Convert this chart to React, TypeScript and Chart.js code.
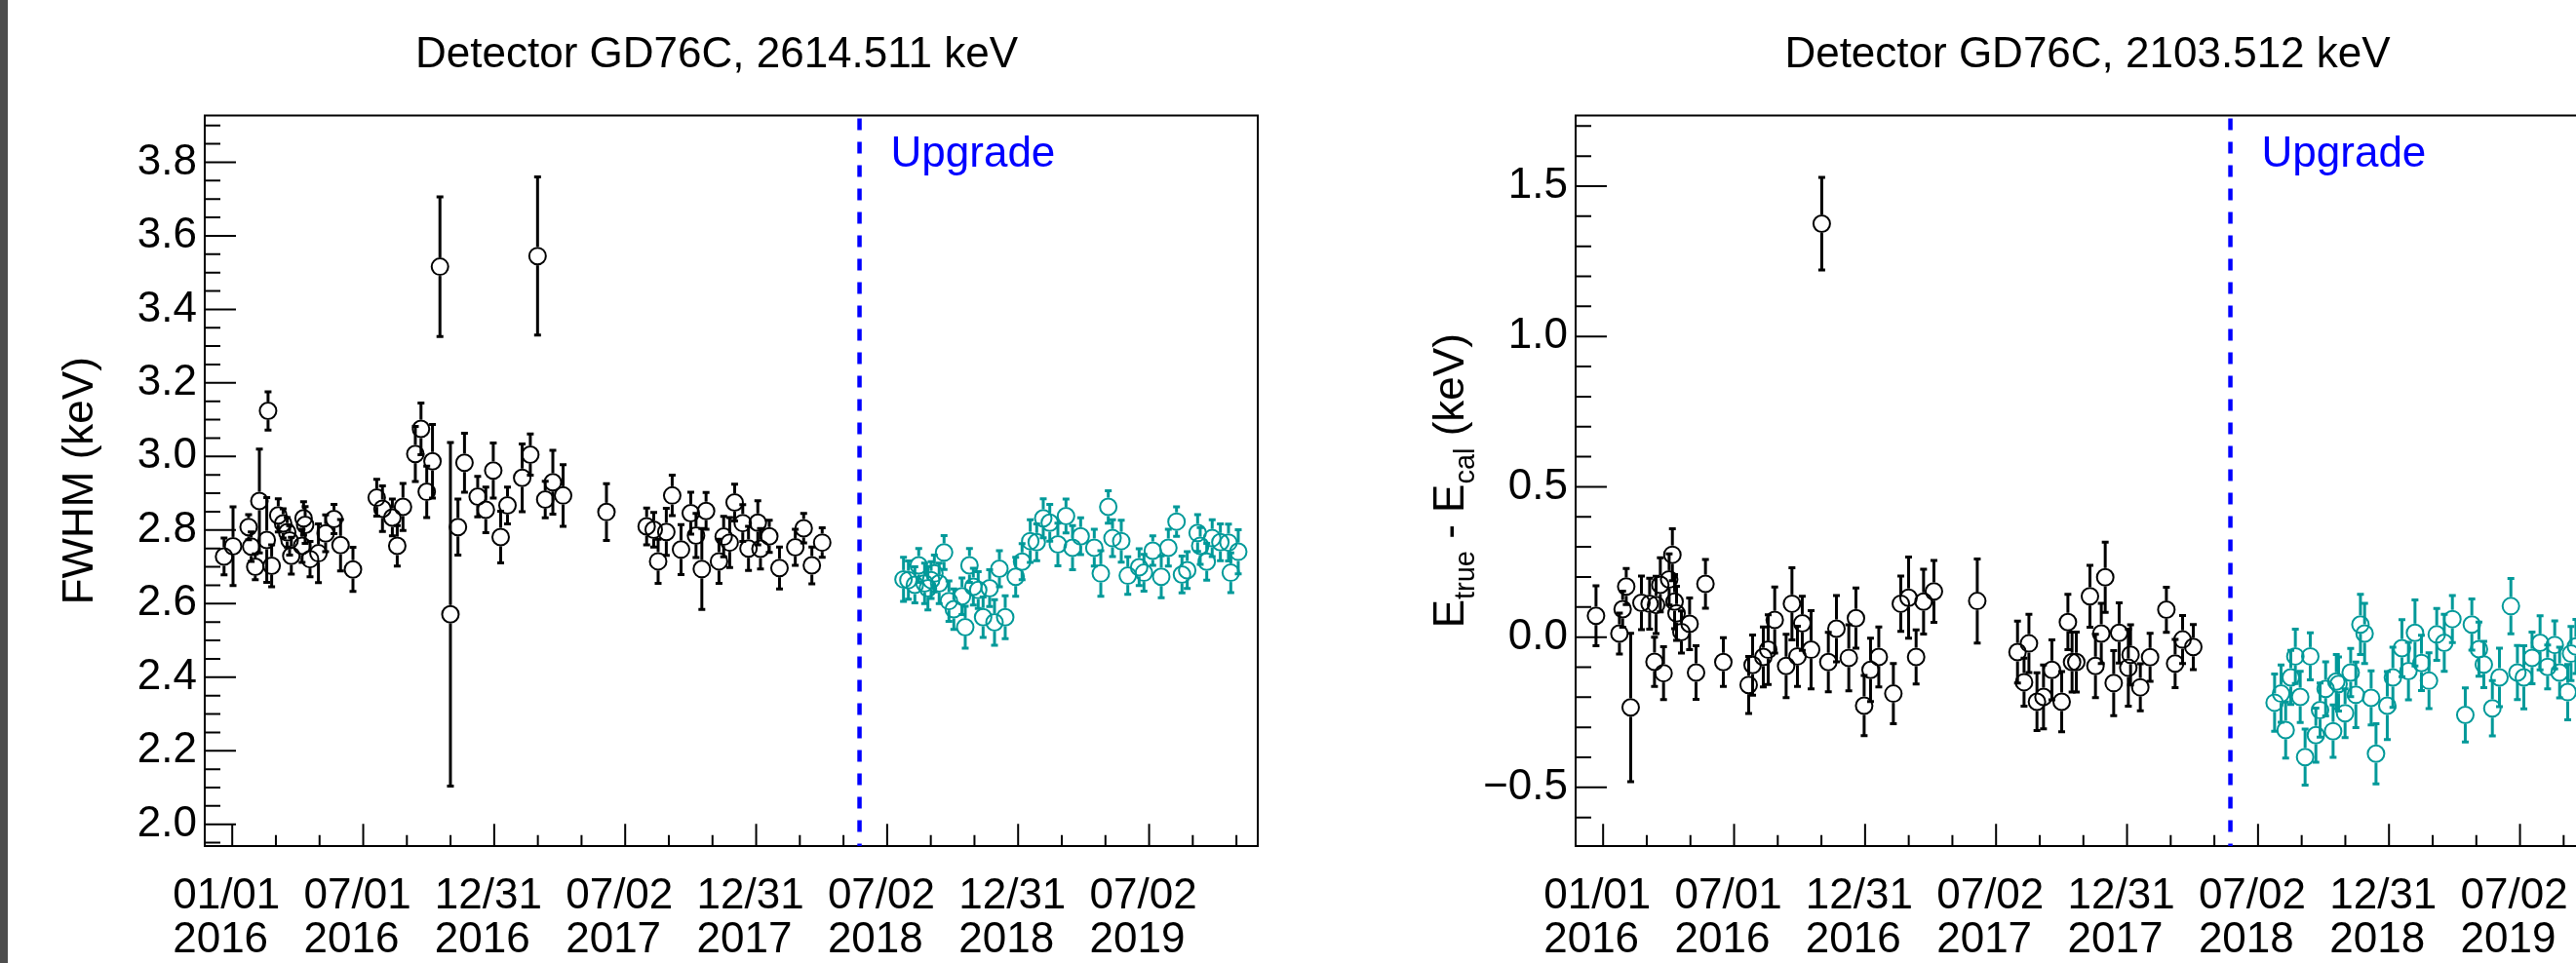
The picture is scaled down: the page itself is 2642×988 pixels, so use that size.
import { useEffect, useRef } from "react";
import { Chart, registerables } from "chart.js";

Chart.register(...registerables);

const FONT_FAMILY = '"Liberation Sans", Arial, Helvetica, sans-serif';
const BLACK = "#000000";
const TEAL = "#009999";
const BLUE = "#0000ff";

// ---------- shared x axis (days since 01/01/2016) ----------
const xTickDays = [0, 182.5, 365, 547.5, 730, 912.5, 1095, 1277.5];
const xTickLabels = [
  ["01/01", "2016"],
  ["07/01", "2016"],
  ["12/31", "2016"],
  ["07/02", "2017"],
  ["12/31", "2017"],
  ["07/02", "2018"],
  ["12/31", "2018"],
  ["07/02", "2019"],
];
const xMinDay = -38.3;
const xMaxDay = 1428.9;
const upgradeDay = 874;

// ---------- left panel: FWHM at 2614.511 keV ----------
const leftTitle = "Detector GD76C, 2614.511 keV";
const leftYTicks = [2.0, 2.2, 2.4, 2.6, 2.8, 3.0, 3.2, 3.4, 3.6, 3.8];
const leftYMin = 1.941;
const leftYMax = 3.927;

const leftBlackDays = [
  -11.4, 1.1, 22.8, 26.4, 32.1, 37.8, 48.1, 49.9, 54.9, 64.1, 70.9, 76.6, 79.9, 82.3, 97.3, 99.4, 101.6, 108.4,
  120.1, 130.1, 141.8, 150.9, 168.2, 201.3, 209.3, 223.1, 229.9, 237.9, 255.1, 263, 271, 279, 289.4, 304, 314.5,
  323.6, 342, 353.3, 363.7, 374, 383.5, 404, 415.3, 425.4, 436.1, 446.7, 461, 521.4, 577.4, 587.3, 593.4, 604.8,
  613, 625.3, 638.9, 646.2, 654.3, 660.2, 678.2, 684.7, 693.1, 700, 711.3, 719.3, 732.3, 736, 748.3, 762.5, 784.5,
  796.2, 807.6, 822,
];
const leftBlackFwhm = [
  2.728, 2.756, 2.808, 2.755, 2.7, 2.879, 2.773, 3.124, 2.703, 2.84, 2.818, 2.794, 2.772, 2.73, 2.757, 2.832, 2.814,
  2.721, 2.737, 2.791, 2.83, 2.759, 2.693, 2.888, 2.858, 2.834, 2.757, 2.863, 3.007, 3.075, 2.904, 2.987, 3.516,
  2.571, 2.808, 2.983, 2.891, 2.855, 2.962, 2.781, 2.867, 2.942, 3.005, 3.545, 2.883, 2.93, 2.894, 2.849, 2.81,
  2.801, 2.715, 2.795, 2.894, 2.747, 2.846, 2.785, 2.694, 2.852, 2.715, 2.782, 2.766, 2.875, 2.819, 2.75, 2.82,
  2.749, 2.783, 2.697, 2.753, 2.805, 2.704, 2.766,
];
const leftBlackErr = [
  0.05, 0.107, 0.034, 0.04, 0.035, 0.141, 0.115, 0.052, 0.057, 0.045, 0.04, 0.04, 0.04, 0.05, 0.045, 0.045, 0.05,
  0.048, 0.08, 0.05, 0.04, 0.07, 0.06, 0.05, 0.062, 0.05, 0.055, 0.064, 0.075, 0.07, 0.07, 0.1, 0.19, 0.467, 0.076,
  0.08, 0.055, 0.062, 0.075, 0.07, 0.05, 0.092, 0.056, 0.215, 0.05, 0.087, 0.084, 0.077, 0.05, 0.047, 0.06, 0.064,
  0.055, 0.068, 0.057, 0.06, 0.11, 0.05, 0.06, 0.055, 0.068, 0.05, 0.05, 0.06, 0.06, 0.055, 0.044, 0.057, 0.049,
  0.04, 0.05, 0.04,
];

const leftTealDays = [
  935.3, 942.1, 951.1, 956.5, 964.7, 969.3, 973.8, 978.3, 985, 991.8, 998.6, 1005.4, 1016.8, 1021.3, 1027.2, 1032.6,
  1039.4, 1046.2, 1055.3, 1062.1, 1068.9, 1077, 1091.6, 1100.5, 1111.9, 1120.9, 1130, 1139.1, 1150.4, 1161.7,
  1170.8, 1182.1, 1201.1, 1210.2, 1220.6, 1226.5, 1238.7, 1247.8, 1263.6, 1270.3, 1282.6, 1294.4, 1304.3, 1315.7,
  1323.3, 1330.6, 1345.1, 1348.7, 1357.8, 1365.4, 1376.8, 1388.1, 1391.3, 1401.7,
];
const leftTealFwhm = [
  2.666, 2.664, 2.651, 2.704, 2.655, 2.642, 2.664, 2.682, 2.655, 2.739, 2.607, 2.585, 2.62, 2.536, 2.704, 2.646,
  2.637, 2.563, 2.642, 2.549, 2.695, 2.563, 2.673, 2.714, 2.77, 2.767, 2.832, 2.82, 2.761, 2.838, 2.752, 2.783,
  2.752, 2.682, 2.863, 2.778, 2.77, 2.676, 2.699, 2.684, 2.744, 2.673, 2.752, 2.823, 2.679, 2.691, 2.792, 2.757,
  2.714, 2.778, 2.767, 2.766, 2.684, 2.741,
];
const leftTealErr = [
  0.06, 0.052, 0.049, 0.046, 0.055, 0.059, 0.05, 0.05, 0.055, 0.046, 0.055, 0.055, 0.05, 0.057, 0.046, 0.05, 0.05,
  0.055, 0.05, 0.062, 0.049, 0.058, 0.053, 0.049, 0.058, 0.05, 0.053, 0.05, 0.058, 0.046, 0.06, 0.05, 0.05, 0.062,
  0.044, 0.05, 0.057, 0.051, 0.05, 0.05, 0.04, 0.057, 0.05, 0.04, 0.05, 0.05, 0.05, 0.05, 0.05, 0.05, 0.05, 0.05,
  0.054, 0.06,
];

// ---------- right panel: E_true - E_cal at 2103.512 keV ----------
const rightTitle = "Detector GD76C, 2103.512 keV";
const rightYTicks = [-0.5, 0.0, 0.5, 1.0, 1.5];
const rightYMin = -0.695;
const rightYMax = 1.735;

const rightBlackDays = [
  -9.9, 22.7, 27.2, 32.2, 38.4, 53.4, 64.8, 71.6, 73.8, 79.7, 84.2, 92, 96.5, 99.6, 102.3, 109.1, 120.5, 129.5,
  142.6, 167.5, 202.8, 208.3, 223.2, 230, 239.1, 255, 263.1, 270.8, 277.5, 289.8, 304.6, 313.8, 325.1, 342.3, 352.3,
  363.7, 372.6, 384.1, 404.4, 414.8, 425.6, 436.1, 446.5, 460.9, 521.3, 577.4, 586.5, 593.3, 604.5, 613.6, 625.3,
  638.9, 647.6, 653.4, 659.3, 678.3, 686, 694.1, 699.6, 711.4, 719, 731.8, 734.9, 748.5, 762.1, 784.8, 797, 807.4,
  822.3,
];
const rightBlackDev = [
  0.071, 0.012, 0.093, 0.168, -0.234, 0.114, 0.111, -0.082, 0.107, 0.174, -0.12, 0.192, 0.274, 0.118, 0.079, 0.017,
  0.044, -0.118, 0.177, -0.083, -0.159, -0.093, -0.066, -0.042, 0.057, -0.096, 0.111, -0.064, 0.046, -0.042, 1.375,
  -0.083, 0.028, -0.069, 0.063, -0.228, -0.109, -0.066, -0.188, 0.111, 0.131, -0.066, 0.118, 0.152, 0.12, -0.05,
  -0.15, -0.021, -0.215, -0.199, -0.109, -0.215, 0.05, -0.083, -0.083, 0.136, -0.096, 0.012, 0.199, -0.153, 0.014,
  -0.102, -0.059, -0.167, -0.067, 0.091, -0.088, -0.008, -0.033,
];
const rightBlackErr = [
  0.1, 0.068, 0.06, 0.06, 0.247, 0.089, 0.085, 0.082, 0.095, 0.09, 0.088, 0.085, 0.086, 0.09, 0.09, 0.07, 0.086,
  0.089, 0.081, 0.081, 0.095, 0.1, 0.1, 0.116, 0.11, 0.105, 0.12, 0.1, 0.09, 0.13, 0.154, 0.099, 0.11, 0.11, 0.1,
  0.1, 0.105, 0.1, 0.1, 0.092, 0.135, 0.09, 0.108, 0.103, 0.14, 0.103, 0.08, 0.097, 0.096, 0.106, 0.1, 0.1, 0.092,
  0.1, 0.1, 0.103, 0.105, 0.1, 0.117, 0.108, 0.1, 0.128, 0.1, 0.078, 0.08, 0.075, 0.08, 0.08, 0.075,
];

const rightTealDays = [
  935.6, 944.6, 951, 958.2, 964.5, 971.3, 978.1, 985.3, 993.1, 998.9, 1006.7, 1017.1, 1021.6, 1024.7, 1033.8,
  1041.6, 1048.8, 1055.2, 1061, 1070.1, 1076.9, 1092.6, 1100.4, 1113, 1122.1, 1131.2, 1140.2, 1150.7, 1161.5, 1172,
  1183.3, 1201.3, 1210.4, 1220.3, 1227.1, 1239, 1248.9, 1264.8, 1273.9, 1282.9, 1294.3, 1305.5, 1316, 1325.9,
  1332.7, 1344, 1348.6, 1355.4,
];
const rightTealDev = [
  -0.218, -0.188, -0.309, -0.134, -0.064, -0.199, -0.399, -0.064, -0.326, -0.243, -0.172, -0.313, -0.148, -0.156,
  -0.253, -0.118, -0.192, 0.042, 0.012, -0.202, -0.388, -0.228, -0.134, -0.037, -0.113, 0.014, -0.086, -0.145, 0.009,
  -0.019, 0.06, -0.259, 0.042, -0.04, -0.091, -0.237, -0.134, 0.103, -0.118, -0.134, -0.069, -0.019, -0.099, -0.026,
  -0.118, -0.183, -0.055, -0.031,
];
const rightTealErr = [
  0.095, 0.095, 0.093, 0.09, 0.09, 0.085, 0.093, 0.078, 0.09, 0.09, 0.09, 0.087, 0.09, 0.09, 0.081, 0.08, 0.109, 0.1,
  0.1, 0.09, 0.1, 0.113, 0.1, 0.095, 0.096, 0.11, 0.092, 0.093, 0.086, 0.095, 0.078, 0.09, 0.085, 0.09, 0.077, 0.092,
  0.097, 0.092, 0.09, 0.105, 0.086, 0.09, 0.073, 0.08, 0.084, 0.092, 0.09, 0.09,
];

// ---------- types & layout constants ----------
type TitlePart = { text: string; sub?: boolean };
type Series = { days: number[]; vals: number[]; errs: number[]; color: string };
type PanelCfg = {
  title: string;
  yMin: number;
  yMax: number;
  yTicks: number[];
  yMinorStep: number;
  yTitle: TitlePart[];
  series: Series[];
};

const CANVAS_W = 1406;
const CANVAS_H = 988;
const MARKER_R = 8.5;
const MAIN_FONT = 44;
const SUB_FONT = 29;

const leftCfg: PanelCfg = {
  title: leftTitle,
  yMin: leftYMin,
  yMax: leftYMax,
  yTicks: leftYTicks,
  yMinorStep: 0.05,
  yTitle: [{ text: "FWHM (keV)" }],
  series: [
    { days: leftBlackDays, vals: leftBlackFwhm, errs: leftBlackErr, color: BLACK },
    { days: leftTealDays, vals: leftTealFwhm, errs: leftTealErr, color: TEAL },
  ],
};

const rightCfg: PanelCfg = {
  title: rightTitle,
  yMin: rightYMin,
  yMax: rightYMax,
  yTicks: rightYTicks,
  yMinorStep: 0.1,
  yTitle: [
    { text: "E" },
    { text: "true", sub: true },
    { text: " - E" },
    { text: "cal", sub: true },
    { text: " (keV)" },
  ],
  series: [
    { days: rightBlackDays, vals: rightBlackDev, errs: rightBlackErr, color: BLACK },
    { days: rightTealDays, vals: rightTealDev, errs: rightTealErr, color: TEAL },
  ],
};

function fmtY(v: number): string {
  const s = Math.abs(v).toFixed(1);
  return v < -1e-9 ? "\u2212" + s : s;
}

function makePlugin(cfg: PanelCfg) {
  return {
    id: "rootStyle",
    beforeDatasetsDraw(chart: any) {
      const ctx: CanvasRenderingContext2D = chart.ctx;
      const xs = chart.scales.x;
      const ys = chart.scales.y;
      ctx.save();
      ctx.lineCap = "butt";
      for (const s of cfg.series) {
        ctx.strokeStyle = s.color;
        s.days.forEach((d, i) => {
          const px = xs.getPixelForValue(d);
          const py = ys.getPixelForValue(s.vals[i]);
          const top = ys.getPixelForValue(s.vals[i] + s.errs[i]);
          const bot = ys.getPixelForValue(s.vals[i] - s.errs[i]);
          const r = MARKER_R + 1;
          ctx.lineWidth = 3;
          if (py - top > r) {
            ctx.beginPath();
            ctx.moveTo(px, py - r);
            ctx.lineTo(px, top);
            ctx.stroke();
          }
          if (bot - py > r) {
            ctx.beginPath();
            ctx.moveTo(px, py + r);
            ctx.lineTo(px, bot);
            ctx.stroke();
          }
          ctx.beginPath();
          ctx.moveTo(px - 3.5, top);
          ctx.lineTo(px + 3.5, top);
          ctx.moveTo(px - 3.5, bot);
          ctx.lineTo(px + 3.5, bot);
          ctx.stroke();
        });
      }
      ctx.restore();
    },
    afterDraw(chart: any) {
      const ctx: CanvasRenderingContext2D = chart.ctx;
      const xs = chart.scales.x;
      const ys = chart.scales.y;
      const { left, right, top, bottom } = chart.chartArea;
      ctx.save();

      // frame
      ctx.strokeStyle = BLACK;
      ctx.lineWidth = 2;
      ctx.strokeRect(left, top, right - left, bottom - top);

      // y ticks (inside)
      const yMajorLen = 32;
      const yMinorLen = 16;
      ctx.beginPath();
      for (const v of cfg.yTicks) {
        const py = ys.getPixelForValue(v);
        ctx.moveTo(left, py);
        ctx.lineTo(left + yMajorLen, py);
      }
      const st = cfg.yMinorStep;
      for (let k = Math.ceil(cfg.yMin / st - 1e-9); k * st <= cfg.yMax + 1e-9; k++) {
        const v = k * st;
        if (cfg.yTicks.some((t) => Math.abs(t - v) < 1e-6)) continue;
        const py = ys.getPixelForValue(v);
        ctx.moveTo(left, py);
        ctx.lineTo(left + yMinorLen, py);
      }
      // x ticks (inside)
      const xMajorLen = 22.7;
      const xMinorLen = 11.3;
      for (const d of xTickDays) {
        const px = xs.getPixelForValue(d);
        ctx.moveTo(px, bottom);
        ctx.lineTo(px, bottom - xMajorLen);
      }
      const xStep = (xTickDays[1] - xTickDays[0]) / 3;
      const x0 = xTickDays[0];
      for (let k = Math.ceil((xMinDay - x0) / xStep); x0 + k * xStep <= xMaxDay; k++) {
        if (k % 3 === 0) continue;
        const px = xs.getPixelForValue(x0 + k * xStep);
        ctx.moveTo(px, bottom);
        ctx.lineTo(px, bottom - xMinorLen);
      }
      ctx.stroke();

      // upgrade marker
      const ux = xs.getPixelForValue(upgradeDay);
      ctx.strokeStyle = BLUE;
      ctx.lineWidth = 4.5;
      ctx.setLineDash([12, 12]);
      ctx.beginPath();
      ctx.moveTo(ux, top + 3);
      ctx.lineTo(ux, bottom);
      ctx.stroke();
      ctx.setLineDash([]);
      ctx.fillStyle = BLUE;
      ctx.font = `${MAIN_FONT}px ${FONT_FAMILY}`;
      ctx.textAlign = "left";
      ctx.textBaseline = "alphabetic";
      ctx.fillText("Upgrade", ux + 32, 171);

      // title
      ctx.fillStyle = BLACK;
      ctx.textAlign = "center";
      ctx.font = `${MAIN_FONT}px ${FONT_FAMILY}`;
      ctx.fillText(cfg.title, 735, 69);

      // y axis title (rotated, with subscripts)
      const mainF = `${MAIN_FONT}px ${FONT_FAMILY}`;
      const subF = `${SUB_FONT}px ${FONT_FAMILY}`;
      let total = 0;
      const widths = cfg.yTitle.map((p) => {
        ctx.font = p.sub ? subF : mainF;
        const w = ctx.measureText(p.text).width;
        total += w;
        return w;
      });
      ctx.translate(95, (top + bottom) / 2);
      ctx.rotate(-Math.PI / 2);
      ctx.textAlign = "left";
      let tx = -total / 2;
      cfg.yTitle.forEach((p, i) => {
        ctx.font = p.sub ? subF : mainF;
        ctx.fillText(p.text, tx, p.sub ? 11 : 0);
        tx += widths[i];
      });
      ctx.restore();
    },
  };
}

function Panel({ cfg, left }: { cfg: PanelCfg; left: number }) {
  const ref = useRef<HTMLCanvasElement>(null);
  useEffect(() => {
    const canvas = ref.current;
    if (!canvas) return;
    const chart = new Chart(canvas, {
      type: "scatter",
      data: {
        datasets: cfg.series.map((s) => ({
          data: s.days.map((d, i) => ({ x: d, y: s.vals[i] })),
          showLine: false,
          pointStyle: "circle",
          pointRadius: MARKER_R,
          pointHoverRadius: MARKER_R,
          pointBorderWidth: 2,
          borderWidth: 2,
          pointBorderColor: s.color,
          borderColor: s.color,
          pointBackgroundColor: "rgba(0,0,0,0)",
          backgroundColor: "rgba(0,0,0,0)",
          clip: false,
        })),
      },
      options: {
        animation: false,
        responsive: false,
        devicePixelRatio: 1,
        events: [],
        layout: { padding: { left: 0, right: 116, top: 118.5, bottom: 0 }, autoPadding: false },
        plugins: {
          legend: { display: false },
          tooltip: { enabled: false },
          title: { display: false },
        },
        scales: {
          x: {
            type: "linear",
            position: "bottom",
            min: xMinDay,
            max: xMaxDay,
            grid: { display: false, drawTicks: false },
            border: { display: false },
            afterBuildTicks: (s: any) => {
              s.ticks = xTickDays.map((v) => ({ value: v }));
            },
            afterFit: (s: any) => {
              s.height = 120;
            },
            ticks: {
              autoSkip: false,
              maxRotation: 0,
              minRotation: 0,
              align: "start",
              labelOffset: -61,
              padding: 29,
              color: BLACK,
              font: { family: FONT_FAMILY, size: MAIN_FONT, lineHeight: "45.5px" },
              callback: (_v: any, i: number) => xTickLabels[i],
            },
          },
          y: {
            type: "linear",
            position: "left",
            min: cfg.yMin,
            max: cfg.yMax,
            grid: { display: false, drawTicks: false },
            border: { display: false },
            afterBuildTicks: (s: any) => {
              s.ticks = cfg.yTicks.map((v) => ({ value: v }));
            },
            afterFit: (s: any) => {
              s.width = 210;
            },
            ticks: {
              padding: 8,
              color: BLACK,
              font: { family: FONT_FAMILY, size: MAIN_FONT },
              callback: (v: any) => fmtY(Number(v)),
            },
          },
        },
      } as any,
      plugins: [makePlugin(cfg)],
    });
    return () => chart.destroy();
  }, [cfg]);
  return (
    <div style={{ position: "absolute", left, top: 0, width: CANVAS_W, height: CANVAS_H }}>
      <canvas
        ref={ref}
        width={CANVAS_W}
        height={CANVAS_H}
        style={{ display: "block", width: CANVAS_W, height: CANVAS_H }}
      />
    </div>
  );
}

export default function App() {
  return (
    <div
      style={{
        position: "fixed",
        left: 0,
        top: 0,
        width: 2642,
        height: 988,
        overflow: "hidden",
        background: "#ffffff",
      }}
    >
      <Panel cfg={leftCfg} left={0} />
      <Panel cfg={rightCfg} left={CANVAS_W} />
      <div style={{ position: "absolute", left: 0, top: 0, width: 8, height: 988, background: "#4d4d4d" }} />
    </div>
  );
}
